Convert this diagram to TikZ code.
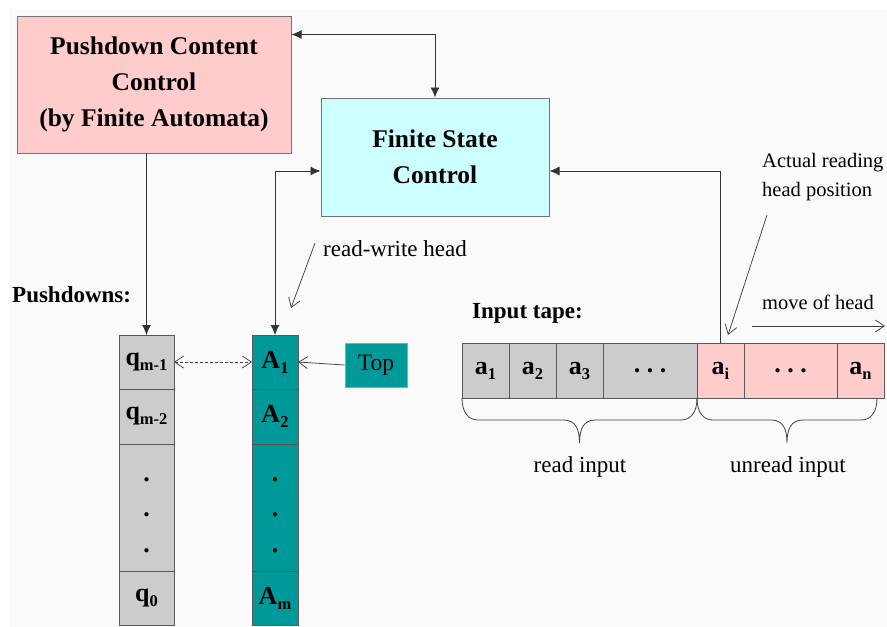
\documentclass[tikz,border=0pt]{standalone}
\usepackage{fontspec}
\setmainfont{Liberation Serif}
\usetikzlibrary{positioning,arrows.meta,calc}

\definecolor{ctrlpink}{RGB}{255,204,204}
\definecolor{ctrlcyan}{RGB}{204,255,255}
\definecolor{cellgray}{RGB}{204,204,204}
\definecolor{stackteal}{RGB}{0,153,153}
\definecolor{topedge}{RGB}{80,195,195}
\definecolor{bggray}{RGB}{250,250,250}

\newcommand{\lowsub}[1]{\raisebox{-5pt}{\fontsize{16.5}{16.5}\selectfont #1}}
\newcommand{\tapebrace}[2]{%
  \path (#1) coordinate (bl) (#2) coordinate (br) ($(bl)!.5!(br)$) coordinate (bm);
  \draw[brace] (bl) .. controls +(0,14) and +(-10,0) .. ++(16,22)
     -- ([shift={(-16,22)}]bm) .. controls +(12,0) and +(0,-14) .. ([shift={(0,45)}]bm)
     .. controls +(0,-14) and +(-12,0) .. ([shift={(16,22)}]bm)
     -- ([shift={(-16,22)}]br) .. controls +(10,0) and +(0,14) .. (br);}

\begin{document}
\begin{tikzpicture}[x=1pt,y=-1pt]
       \tikzstyle{arrow} = [line width=0.9pt,draw=black!80,-{Latex[length=10pt,width=9pt]}]
       \tikzstyle{biarrow} = [arrow,{Latex[length=10pt,width=9pt]}-{Latex[length=10pt,width=9pt]}]
       \tikzstyle{pointer} = [line width=0.75pt,draw=black!75,-{Straight Barb[length=9pt,width=12pt]}]
       \tikzstyle{brace} = [line width=0.8pt,draw=black!75]
       \tikzset{ctrl/.style = {rectangle, draw=black!55, line width=1pt, align=center, font=\fontsize{25.5}{36}\selectfont\bfseries}, }
       \tikzset{cell/.style = {rectangle, draw=black!65, line width=1pt, inner sep=0pt, outer sep=0pt, align=center, font=\fontsize{26}{35.5}\selectfont\bfseries}, }
       \tikzset{qcell/.style = {cell, fill=cellgray, minimum width=55}, }
       \tikzset{acell/.style = {cell, fill=stackteal, minimum width=46}, }
       \tikzset{dots/.style = {minimum height=127, text height=90pt}, }
       \tikzset{tcell/.style = {cell, minimum width=47, minimum height=55}, }
       \tikzset{headtext/.style = {inner sep=0pt, font=\fontsize{23}{27}\selectfont\bfseries}, }
       \tikzset{remark/.style = {inner sep=0pt, align=left, font=\fontsize{20.5}{29}\selectfont}, }

       \useasboundingbox (0,0) rectangle (887,627);
       \fill[bggray] (9,9) rectangle (887,627);

       \node[ctrl, fill=ctrlpink, minimum width=274, minimum height=137] (PDC) at (154,84.5)
         {Pushdown Content\\Control\\(by Finite Automata)};
       \node[ctrl, fill=ctrlcyan, minimum width=228, minimum height=118] (FSC) at (435,157)
         {Finite State\\Control};

       \node[headtext, anchor=west] (PDL) at (12,295) {Pushdowns:};
       \node[headtext, anchor=west] (ITL) at (472,313) {Input tape:};

       \node[qcell, minimum height=54] (Q1) at (146.5,362) {q\lowsub{m-1}};
       \node[qcell, minimum height=55, below=0pt of Q1] (Q2) {q\lowsub{m-2}};
       \node[qcell, dots, below=0pt of Q2] (Q3) {.\\.\\.};
       \node[qcell, minimum height=54, below=0pt of Q3] (Q4) {q\lowsub{0}};

       \node[acell, minimum height=54] (A1) at (275,362) {A\lowsub{1}};
       \node[acell, minimum height=55, below=0pt of A1] (A2) {A\lowsub{2}};
       \node[acell, dots, below=0pt of A2] (A3) {.\\.\\.};
       \node[acell, minimum height=54, below=0pt of A3] (A4) {A\lowsub{m}};

       \node[rectangle, draw=topedge, line width=1pt, fill=stackteal, minimum width=62, minimum height=44,
             font=\fontsize{23.5}{23.5}\selectfont] (TOP) at (376,365) {Top};

       \node[tcell, fill=cellgray] (T1) at (485.5,370.5) {a\lowsub{1}};
       \node[tcell, fill=cellgray, right=0pt of T1] (T2) {a\lowsub{2}};
       \node[tcell, fill=cellgray, right=0pt of T2] (T3) {a\lowsub{3}};
       \node[tcell, fill=cellgray, minimum width=94, right=0pt of T3] (T4) {.\ .\ .};
       \node[tcell, fill=ctrlpink, right=0pt of T4] (T5) {a\lowsub{i}};
       \node[tcell, fill=ctrlpink, minimum width=93, right=0pt of T5] (T6) {.\ .\ .};
       \node[tcell, fill=ctrlpink, right=0pt of T6] (T7) {a\lowsub{n}};

       \tapebrace{T1.south west}{T4.south east}
       \tapebrace{T5.south west}{[xshift=-7pt]T7.south east}
       \node[remark, font=\fontsize{23}{27}\selectfont] (RDI) at (580,467) {read input};
       \node[remark, font=\fontsize{23}{27}\selectfont] (URI) at (788,467) {unread input};

       \node[remark, anchor=west, font=\fontsize{23}{27}\selectfont] (RWH) at (323,249) {read-write head};
       \node[remark, anchor=north west] (ARH) at (762,153) {Actual reading\\head position};
       \node[remark, anchor=west] (MOH) at (762,302) {move of head};
       \coordinate (RWtip) at (291,308);
       \coordinate (ARtip) at (728,335);
       \coordinate (MVs) at (752,326);
       \coordinate (MVe) at (885,326);

       \draw[biarrow] ([yshift=-19pt]PDC.north east) -| (FSC.north);
       \draw[arrow] (PDC.south -| Q1.north) -- (Q1.north);
       \draw[biarrow] ([yshift=-14pt]FSC.west) -| (A1.north);
       \draw[arrow] (T5.north) |- ([yshift=-14pt]FSC.east);
       \draw[pointer, dash pattern=on 3pt off 2pt, {Straight Barb[length=9pt,width=12pt]}-{Straight Barb[length=9pt,width=12pt]}] (Q1.east) -- (A1.west);
       \draw[pointer] (TOP.west) -- (A1.east);
       \draw[pointer] ([shift={(-8,-6)}]RWH.west) -- (RWtip);
       \draw[pointer] ([shift={(5,14)}]ARH.south west) -- (ARtip);
       \draw[pointer] (MVs) -- (MVe);
\end{tikzpicture}
\end{document}
